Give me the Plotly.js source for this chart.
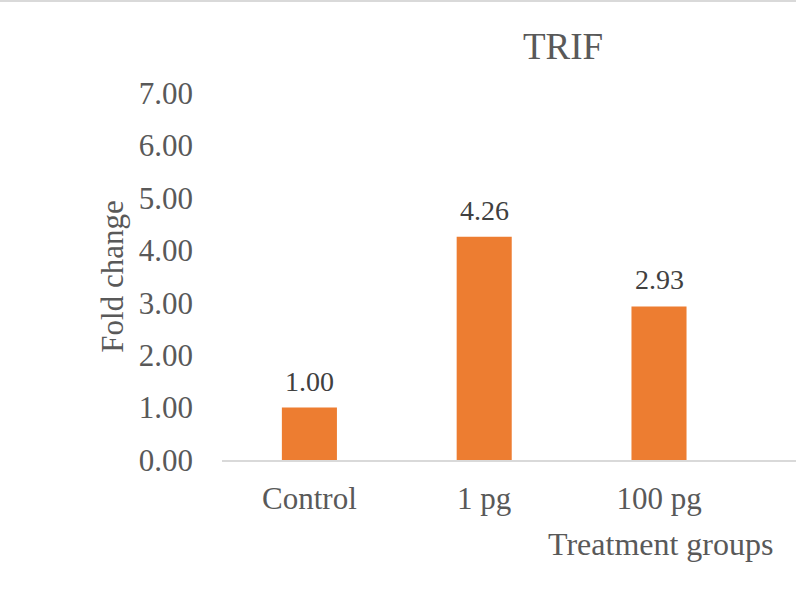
<!DOCTYPE html>
<html><head><meta charset="utf-8">
<script src="https://cdn.plot.ly/plotly-3.0.1.min.js"></script>
<style>html,body{margin:0;padding:0;background:#fff;}#chart{width:796px;height:590px;border-top:2px solid #d9d9d9;}</style>
</head><body><div id="chart"></div>
<script>
const categories = ["Control", "1 pg", "100 pg"];
const foldChange = [1.00, 4.26, 2.93];
const labels = ["1.00", "4.26", "2.93"];
const yTicks = [0, 1, 2, 3, 4, 5, 6, 7];
const yTickText = ["0.00", "1.00", "2.00", "3.00", "4.00", "5.00", "6.00", "7.00"];

const font = "Liberation Serif, Times New Roman, serif";
const grey = "#595959";

const trace = {
  type: "bar",
  x: categories,
  y: foldChange,
  width: 0.315,
  marker: {color: "#ED7D31"},
  hoverinfo: "none"
};

const annotations = categories.map((c, i) => ({
  x: c, y: foldChange[i], xref: "x", yref: "y",
  text: labels[i], showarrow: false, yanchor: "bottom", yshift: 9,
  font: {family: font, size: 28, color: "#404040"}
}));
annotations.push({
  x: (660 - 222) / 574, xref: "paper", y: -(543 - 459) / 367, yref: "paper",
  xanchor: "center", yanchor: "middle",
  text: "Treatment groups", showarrow: false,
  font: {family: font, size: 32, color: grey}
});

const layout = {
  width: 796, height: 590,
  margin: {l: 222, r: 0, t: 91, b: 132},
  paper_bgcolor: "#fff", plot_bgcolor: "#fff",
  showlegend: false,
  title: {text: "TRIF", x: (563 - 222) / 574, xanchor: "center", xref: "paper", y: 1 - 44 / 590, yanchor: "middle",
          font: {family: font, size: 37, color: grey}},
  xaxis: {
    type: "category",
    range: [-0.5, -0.5 + 574 / 174.8],
    showgrid: false, zeroline: false,
    showline: true, linecolor: "#d9d9d9", linewidth: 2,
    ticks: "", ticklabelstandoff: 10,
    tickfont: {family: font, size: 31, color: grey},
    fixedrange: true
  },
  yaxis: {
    range: [0, 7],
    tickvals: yTicks, ticktext: yTickText,
    showgrid: false, zeroline: false, showline: false,
    ticks: "", ticklabelstandoff: 28,
    tickfont: {family: font, size: 31, color: grey},
    title: {text: "Fold change", standoff: 5, font: {family: font, size: 31, color: grey}},
    fixedrange: true
  },
  annotations: annotations
};

Plotly.newPlot("chart", [trace], layout, {staticPlot: true, displayModeBar: false});
</script></body></html>
